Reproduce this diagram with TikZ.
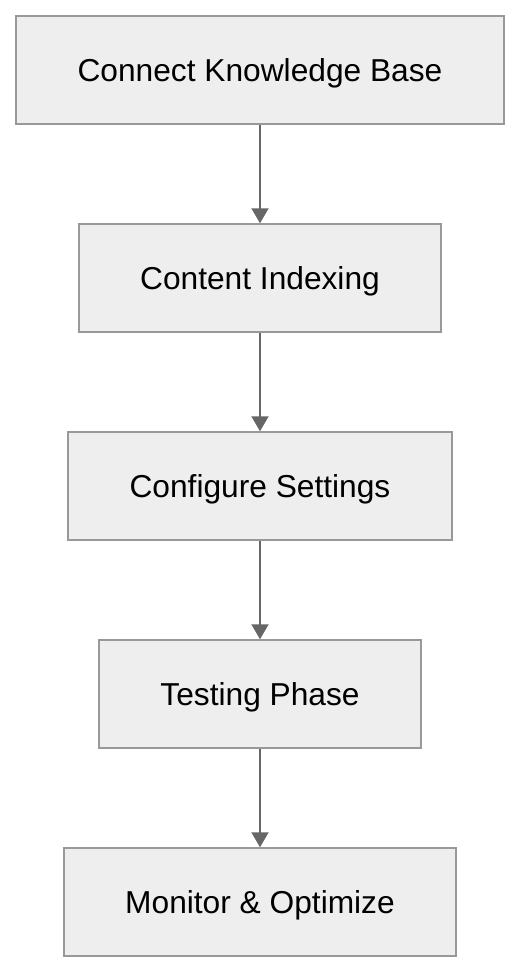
\documentclass[tikz,border=0pt]{standalone}
\usepackage{fontspec}
\setmainfont{Liberation Sans}
\usetikzlibrary{arrows.meta}
\definecolor{boxfill}{HTML}{EEEEEE}
\definecolor{boxline}{HTML}{999999}
\definecolor{arrowgray}{HTML}{666666}

\begin{document}
\begin{tikzpicture}[x=1pt,y=-1pt,
  stepbox/.style={draw=boxline,fill=boxfill,line width=1.5pt,minimum height=108pt,inner sep=0pt,text height=23pt,text depth=0pt,font=\fontsize{31.7}{36}\selectfont},
  flow/.style={draw=arrowgray,line width=2pt,-{Triangle[width=17pt,length=15pt]}}]
\useasboundingbox (0,0) rectangle (520,972);
\node[stepbox,minimum width=488pt] at (260,70) (s1) {Connect Knowledge Base};
\node[stepbox,minimum width=362pt] at (260,278) (s2) {Content Indexing};
\node[stepbox,minimum width=384pt] at (260,486) (s3) {Configure Settings};
\node[stepbox,minimum width=322pt] at (260,694) (s4) {Testing Phase};
\node[stepbox,minimum width=392pt] at (260,902) (s5) {Monitor \& Optimize};

\draw[flow] (s1) -- (s2);
\draw[flow] (s2) -- (s3);
\draw[flow] (s3) -- (s4);
\draw[flow] (s4) -- (s5);
\end{tikzpicture}
\end{document}
